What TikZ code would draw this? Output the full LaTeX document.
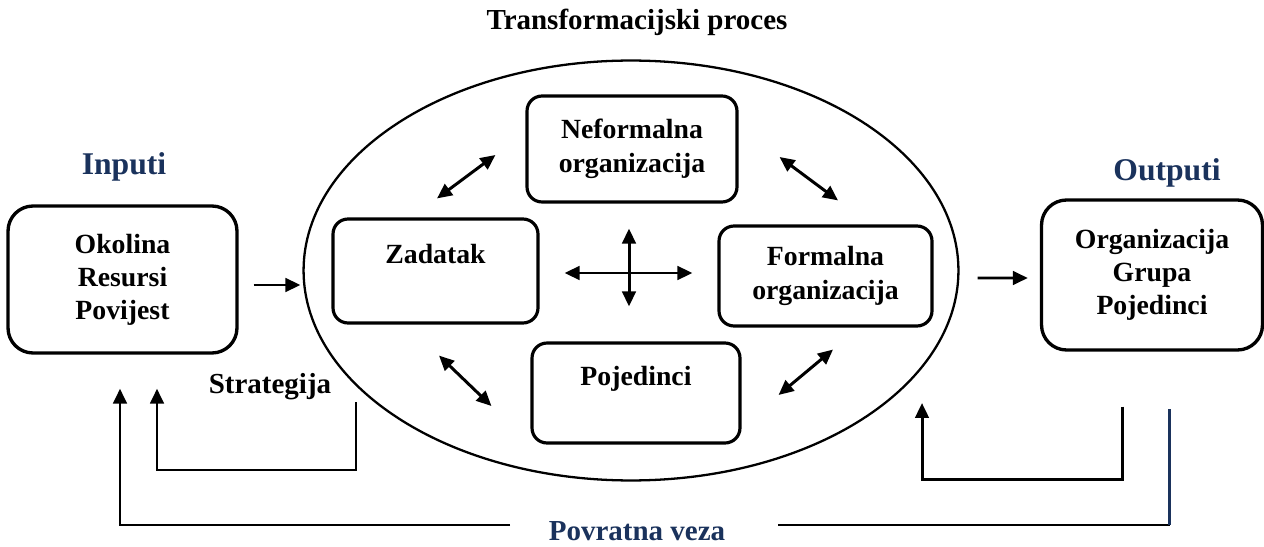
\documentclass[tikz,border=0pt]{standalone}
\usepackage{fontspec}
\setmainfont{Liberation Serif}
\usetikzlibrary{arrows.meta,shapes.geometric,calc}
\definecolor{navy}{RGB}{26,50,92}

\begin{document}
\begin{tikzpicture}[
    x=0.02cm, y=-0.02cm,
    sidebox/.style={draw, line width=1.9pt, rounded corners=0.5cm, align=center, font=\fontsize{15.8}{18.8}\selectfont\bfseries},
    partbox/.style={draw, line width=1.8pt, rounded corners=0.3cm, align=center, font=\fontsize{15.8}{19.2}\selectfont\bfseries},
    uptext/.style={text height=0.4cm, text depth=0.72cm},
    arr/.style={-{Triangle[length=0.3cm, width=0.27cm]}, line width=1.7pt},
    darr/.style={{Triangle[length=0.3cm, width=0.27cm]}-{Triangle[length=0.3cm, width=0.27cm]}, line width=1.7pt},
    lbl/.style={font=\fontsize{16.5}{19}\selectfont\bfseries},
    head/.style={font=\fontsize{18}{21}\selectfont\bfseries, text=navy}
  ]
    \useasboundingbox (0,0) rectangle (1264,547);
    \node[lbl] (title) at (637,22) {Transformacijski proces};
    \node[draw, ellipse, line width=1.3pt, minimum width=13.1cm, minimum height=8.4cm] (proc) at (631,270.5) {};
    \node[head] (inlbl) at (124,167) {Inputi};
    \node[head] (outlbl) at (1167,173) {Outputi};
    \node[sidebox, minimum width=4.58cm, minimum height=2.94cm] (inbox) at (122.5,279.5) {Okolina\\Resursi\\Povijest};
    \node[sidebox, minimum width=4.42cm, minimum height=3.0cm] (outbox) at (1152,275) {Organizacija\\Grupa\\Pojedinci};
    \node[partbox, minimum width=4.2cm, minimum height=2.12cm] (neform) at (632,149) {Neformalna\\organizacija};
    \node[partbox, uptext, minimum width=4.1cm, minimum height=2.08cm] (zad) at (435.5,271) {Zadatak};
    \node[partbox, minimum width=4.26cm, minimum height=2.0cm] (form) at (825.5,276) {Formalna\\organizacija};
    \node[partbox, uptext, minimum width=4.16cm, minimum height=2.0cm] (poj) at (636,393) {Pojedinci};
    \node[lbl] (strat) at (270,387) {Strategija};
    \node[lbl, text=navy] (pv) at (637,531) {Povratna veza};

    \draw[darr] ($(zad.east)+(25,2)$) -- ($(form.west)+(-25,-3)$);
    \draw[darr] ($(neform.south)+(-3,25)$) -- ($(poj.north)+(-7,-35)$);
    \draw[darr] ($(zad.north)+(1.5,-19)$) -- ($(neform.west)+(-30,6)$);
    \draw[darr] ($(neform.east)+(41,8)$) -- ($(form.north)+(12.5,-24)$);
    \draw[darr] ($(zad.south)+(3.5,31)$) -- ($(poj.west)+(-39,13)$);
    \draw[darr] ($(form.south)+(7.5,22)$) -- ($(poj.east)+(37,2)$);

    \draw[arr] ($(inbox.east)+(15,5.5)$) -- ($(proc.west)+(-2,14.5)$);
    \draw[arr] ($(proc.east)+(18,7.5)$) -- ($(outbox.west)+(-12,3)$);

    \coordinate (stratEnd) at (356,402);
    \coordinate (procIn) at (922,403);
    \coordinate (outIn) at ($(outbox.south)+(-29.5,55)$);
    \coordinate (outEnd) at ($(outbox.south)+(17.5,57)$);
    \coordinate (fbL) at (510,525);
    \coordinate (fbR) at (778,525);
    \draw[arr] (stratEnd) -- ++(0,68) -| ($(inbox.south)+(34.5,34)$);
    \draw[arr] (outIn) -- ++(0,73) -| (procIn);
    \draw[arr] (fbL) -| ($(inbox.south)+(-2.5,34)$);
    \draw[line width=1.7pt] (fbR) -- (fbR -| outEnd);
    \draw[navy, line width=1.5pt] (fbR -| outEnd) -- (outEnd);
  \end{tikzpicture}
\end{document}
